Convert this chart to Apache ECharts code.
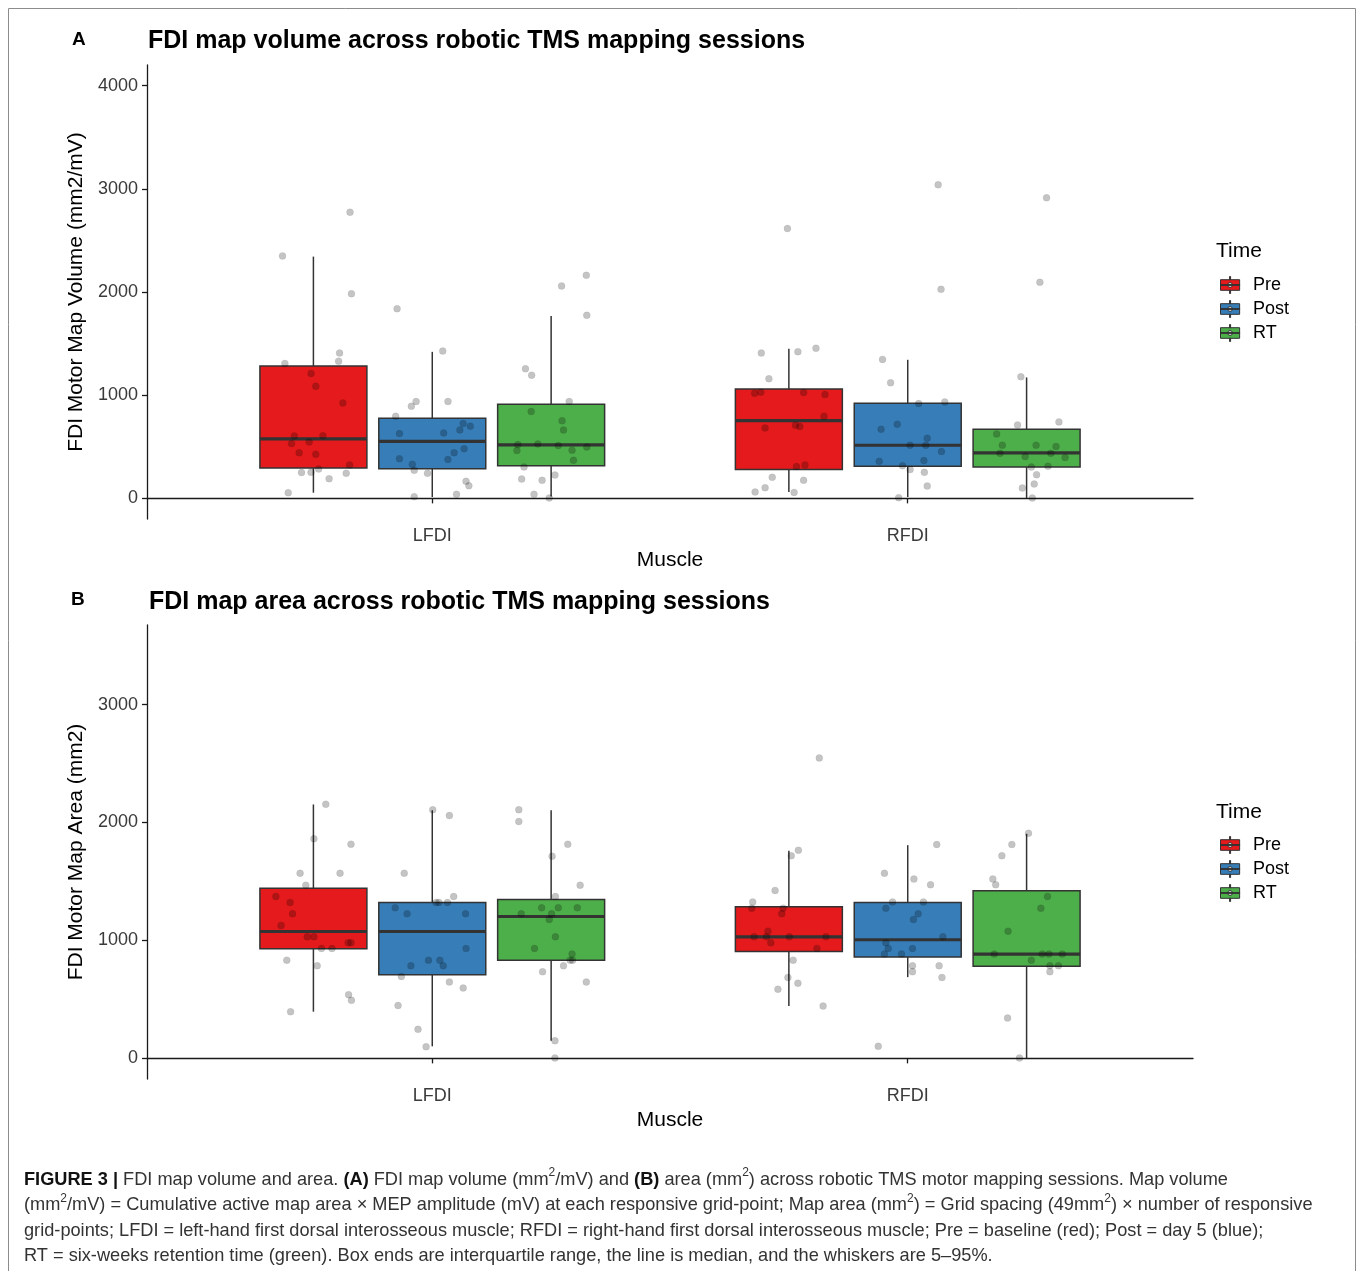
<!DOCTYPE html>
<html><head><meta charset="utf-8">
<script src="https://cdn.jsdelivr.net/npm/echarts@6/dist/echarts.min.js"></script>
<style>html,body{margin:0;padding:0;background:#fff}#c{width:1358px;height:1271px}</style>
</head><body><div id="c"></div>
<script>
// ---------------- DATA ----------------
const muscles = ['LFDI', 'RFDI'];
const times = ['Pre', 'Post', 'RT'];
const volTicks = [0, 1000, 2000, 3000, 4000];
const areaTicks = [0, 1000, 2000, 3000];

// box stats: [muscleIndex, lowerWhisker, Q1, median, Q3, upperWhisker]
const volPreBox  = [[0, 55, 294, 576, 1282, 2343], [1, 61, 279, 754, 1061, 1450]];
const volPostBox = [[0, 13, 288, 553, 777, 1420],  [1, 13, 311, 515, 922, 1343]];
const volRTBox   = [[0, 19, 317, 518, 913, 1767],  [1, 3, 304, 440, 670, 1172]];
const areaPreBox  = [[0, 396, 930, 1076, 1443, 2153], [1, 443, 907, 1031, 1286, 1760]];
const areaPostBox = [[0, 102, 709, 1076, 1322, 2104], [1, 689, 859, 1006, 1322, 1808]];
const areaRTBox   = [[0, 150, 831, 1203, 1348, 2104], [1, 3, 782, 884, 1421, 1904]];

// individual observations: [jitter (category units), value]
const volPreL = [[0.077,2774],[-0.065,2350],[0.080,1984],[0.055,1408],[0.053,1330],[-0.060,1308],[-0.005,1211],[0.005,1087],[0.062,925],[-0.040,605],[0.020,608],[-0.046,531],[-0.009,547],[-0.030,443],[0.005,427],[0.076,324],[0.011,285],[-0.025,250],[-0.005,252],[0.033,191],[0.069,243],[-0.053,55]];
const volPostL = [[-0.074,1838],[0.022,1427],[-0.034,939],[-0.044,893],[0.033,939],[-0.077,796],[0.065,725],[0.080,699],[0.058,663],[-0.069,628],[0.024,634],[0.067,482],[0.046,443],[-0.069,385],[0.033,376],[-0.042,330],[-0.038,272],[-0.010,243],[0.071,165],[0.077,123],[-0.038,16],[0.051,39]];
const volRTL = [[0.074,2162],[0.022,2058],[0.075,1774],[-0.054,1256],[-0.041,1194],[0.038,939],[-0.042,842],[0.023,751],[0.026,663],[-0.028,527],[-0.070,521],[0.015,512],[-0.072,463],[0.044,466],[0.075,498],[0.047,369],[-0.057,304],[0.008,226],[-0.062,187],[-0.019,175],[-0.036,39],[-0.004,3]];
const volPreR = [[-0.003,2615],[-0.058,1408],[0.019,1421],[0.057,1456],[-0.042,1159],[-0.072,1019],[-0.059,1029],[0.031,1026],[0.076,1007],[0.074,796],[-0.050,683],[0.014,709],[0.023,696],[0.034,324],[0.016,308],[-0.035,204],[0.031,175],[-0.050,104],[-0.071,61],[0.011,58]];
const volPostR = [[0.064,3039],[0.070,2026],[-0.053,1347],[-0.036,1120],[0.023,919],[0.078,935],[-0.056,670],[-0.022,718],[0.041,583],[0.005,515],[0.038,515],[0.071,453],[-0.060,359],[0.034,366],[-0.011,317],[0.005,279],[0.035,252],[0.041,119],[-0.019,7]];
const volRTR = [[0.042,2913],[0.028,2094],[-0.012,1178],[-0.019,712],[0.068,741],[-0.063,624],[-0.051,515],[0.020,515],[0.062,502],[-0.056,437],[0.051,437],[-0.003,405],[0.081,395],[0.010,304],[0.045,311],[0.021,230],[0.016,139],[-0.009,100],[0.012,3]];
const areaPreL = [[0.026,2155],[0.001,1862],[0.079,1816],[-0.028,1570],[0.056,1570],[-0.016,1469],[-0.079,1373],[-0.049,1322],[-0.044,1226],[-0.068,1127],[-0.013,1031],[0.001,1031],[0.073,980],[0.079,980],[0.017,932],[0.039,932],[-0.056,833],[0.008,785],[0.074,540],[0.080,492],[-0.048,396]];
const areaPostL = [[0.001,2108],[0.036,2059],[-0.059,1570],[0.045,1373],[0.008,1322],[0.014,1322],[0.032,1322],[-0.078,1277],[-0.053,1226],[0.070,1226],[0.071,932],[-0.008,833],[0.016,833],[-0.045,785],[0.023,785],[-0.065,695],[0.036,647],[0.065,596],[-0.072,449],[-0.030,246],[-0.013,99]];
const areaRTL = [[-0.068,2108],[-0.068,2009],[0.035,1816],[0.002,1715],[0.061,1469],[0.009,1373],[-0.020,1277],[0.015,1277],[0.055,1277],[-0.063,1226],[0.001,1226],[-0.004,1178],[0.009,1031],[-0.035,932],[0.044,884],[0.040,833],[0.045,833],[0.026,785],[-0.018,735],[0.074,647],[0.008,150],[0.008,3]];
const areaPreR = [[0.064,2548],[0.020,1765],[0.005,1718],[-0.029,1424],[-0.076,1325],[-0.078,1274],[-0.012,1274],[-0.015,1226],[-0.044,1079],[-0.073,1031],[-0.047,1031],[0.001,1031],[0.078,1031],[-0.038,980],[0.059,932],[0.009,833],[-0.002,686],[0.019,638],[-0.023,587],[0.072,443]];
const areaPostR = [[0.061,1814],[-0.049,1570],[0.013,1520],[0.048,1472],[-0.032,1325],[0.033,1325],[-0.046,1274],[0.022,1226],[0.012,1178],[0.074,1031],[-0.046,980],[-0.041,932],[0.010,932],[-0.049,884],[-0.013,884],[0.010,785],[0.066,785],[0.010,735],[0.072,686],[-0.062,102]];
const areaRTR = [[0.004,1909],[-0.031,1814],[-0.052,1718],[-0.071,1520],[-0.065,1472],[0.044,1373],[0.030,1274],[-0.039,1079],[-0.068,884],[0.033,884],[0.047,884],[0.075,884],[0.010,833],[0.049,785],[0.067,785],[0.049,735],[-0.040,342],[-0.015,3]];

// ---------------- STYLE / LAYOUT ----------------
const colors = ['#E41A1C', '#377EB8', '#4DAF4A'];
const dodge = [-0.25, 0, 0.25];
const boxW = 0.225;
const lineCol = '#333333';
const FONT = '"Liberation Sans", Arial, sans-serif';

const panels = [
  { boxes: [volPreBox, volPostBox, volRTBox], pts: [[volPreL, volPreR], [volPostL, volPostR], [volRTL, volRTR]],
    ticks: volTicks, min: -200, max: 4200, yName: 'FDI Motor Map Volume (mm2/mV)', top: 65 },
  { boxes: [areaPreBox, areaPostBox, areaRTBox], pts: [[areaPreL, areaPreR], [areaPostL, areaPostR], [areaRTL, areaRTR]],
    ticks: areaTicks, min: -175, max: 3675, yName: 'FDI Motor Map Area (mm2)', top: 625 }
];

function boxRender(t) {
  return function (params, api) {
    const xc = api.value(0) + 1 + dodge[t];
    const lo = api.coord([xc, api.value(1)]);
    const q1 = api.coord([xc, api.value(2)]);
    const md = api.coord([xc, api.value(3)]);
    const q3 = api.coord([xc, api.value(4)]);
    const hi = api.coord([xc, api.value(5)]);
    const hw = api.size([boxW / 2, 0])[0];
    const ls = { stroke: lineCol, lineWidth: 1.5 };
    return { type: 'group', children: [
      { type: 'line', shape: { x1: lo[0], y1: lo[1], x2: q1[0], y2: q1[1] }, style: ls },
      { type: 'line', shape: { x1: q3[0], y1: q3[1], x2: hi[0], y2: hi[1] }, style: ls },
      { type: 'rect', shape: { x: q3[0] - hw, y: q3[1], width: 2 * hw, height: q1[1] - q3[1] },
        style: { fill: colors[t], stroke: lineCol, lineWidth: 1.5 } },
      { type: 'line', shape: { x1: md[0] - hw, y1: md[1], x2: md[0] + hw, y2: md[1] },
        style: { stroke: lineCol, lineWidth: 3.2 } }
    ]};
  };
}

const grids = [], xAxes = [], yAxes = [], series = [], legends = [];
const axisLineStyle = { color: '#1a1a1a', width: 1.3 };
panels.forEach((p, pi) => {
  grids.push({ left: 147, top: p.top, width: 1046, height: 454 });
  xAxes.push({
    type: 'value', gridIndex: pi, min: 0.4, max: 2.6,
    name: 'Muscle', nameLocation: 'middle', nameGap: 31,
    nameTextStyle: { fontFamily: FONT, fontSize: 21, color: '#000' },
    axisLine: { show: true, lineStyle: axisLineStyle },
    axisTick: { show: true, length: 5, lineStyle: axisLineStyle, customValues: [1, 2] },
    axisLabel: { customValues: [1, 2], formatter: v => muscles[Math.round(v) - 1], margin: 8,
      fontFamily: FONT, fontSize: 18, color: '#3a3a3a' },
    splitLine: { show: false }
  });
  yAxes.push({
    type: 'value', gridIndex: pi, min: p.min, max: p.max,
    name: p.yName, nameLocation: 'middle', nameRotate: 90, nameGap: 48,
    nameTextStyle: { fontFamily: FONT, fontSize: 21, color: '#000' },
    axisLine: { show: true, lineStyle: axisLineStyle },
    axisTick: { show: true, length: 5, lineStyle: axisLineStyle, customValues: p.ticks },
    axisLabel: { customValues: p.ticks, formatter: v => String(v), margin: 9, fontFamily: FONT, fontSize: 18, color: '#3a3a3a' },
    splitLine: { show: false }
  });
  times.forEach((tn, t) => {
    series.push({
      type: 'custom', name: tn, xAxisIndex: pi, yAxisIndex: pi,
      renderItem: boxRender(t), encode: { x: 0, y: [1, 2, 3, 4, 5] },
      itemStyle: { color: colors[t], borderColor: lineCol, borderWidth: 1 },
      data: p.boxes[t], z: 2, silent: true
    });
  });
  times.forEach((tn, t) => {
    const data = [];
    p.pts[t].forEach((arr, m) => arr.forEach(d => data.push([m + 1 + dodge[t] + d[0], d[1]])));
    series.push({
      type: 'scatter', name: tn + ' obs', xAxisIndex: pi, yAxisIndex: pi,
      symbol: 'circle', symbolSize: 7,
      itemStyle: { color: 'rgba(0,0,0,0.29)', borderColor: 'rgba(0,0,0,0.12)', borderWidth: 0.6 },
      data: data, z: 5, silent: true
    });
  });
  legends.push({
    data: times, orient: 'vertical', left: 1215, top: p.top + 206, itemWidth: 22, itemHeight: 17, itemGap: 6,
    icon: 'path://M9.5 0h1v3h-1z M1 3h18v10h-18z M9.5 13h1v3h-1z M1 7.6h18v0.8h-18z M7.8 8a2.2 2.2 0 1 0 4.4 0a2.2 2.2 0 1 0 -4.4 0z',
    itemStyle: { borderColor: lineCol, borderWidth: 1 },
    textStyle: { fontFamily: FONT, fontSize: 18, color: '#000', lineHeight: 18, padding: [0, 0, 0, 7] },
    selectedMode: false
  });
});

const captionLines = [
  '{b|FIGURE 3 |} FDI map volume and area. {b|(A)} FDI map volume (mm{s|2}/mV) and {b|(B)} area (mm{s|2}) across robotic TMS motor mapping sessions. Map volume',
  '(mm{s|2}/mV) = Cumulative active map area × MEP amplitude (mV) at each responsive grid-point; Map area (mm{s|2}) = Grid spacing (49mm{s|2}) × number of responsive',
  'grid-points; LFDI = left-hand first dorsal interosseous muscle; RFDI = right-hand first dorsal interosseous muscle; Pre = baseline (red); Post = day 5 (blue);',
  'RT = six-weeks retention time (green). Box ends are interquartile range, the line is median, and the whiskers are 5–95%.'
];

const graphics = [
  { type: 'rect', shape: { x: 8.5, y: 8.5, width: 1347, height: 1300 }, style: { fill: 'none', stroke: '#8c8c8c', lineWidth: 1 }, silent: true },
  { type: 'text', x: 72, y: 40, style: { text: 'A', font: 'bold 19px ' + FONT, fill: '#000', verticalAlign: 'middle' } },
  { type: 'text', x: 148, y: 41, style: { text: 'FDI map volume across robotic TMS mapping sessions', font: 'bold 25px ' + FONT, fill: '#000', verticalAlign: 'middle' } },
  { type: 'text', x: 71, y: 600, style: { text: 'B', font: 'bold 19px ' + FONT, fill: '#000', verticalAlign: 'middle' } },
  { type: 'text', x: 149, y: 602, style: { text: 'FDI map area across robotic TMS mapping sessions', font: 'bold 25px ' + FONT, fill: '#000', verticalAlign: 'middle' } },
  { type: 'text', x: 1216, y: 251, style: { text: 'Time', font: '21px ' + FONT, fill: '#000', verticalAlign: 'middle' } },
  { type: 'text', x: 1216, y: 812, style: { text: 'Time', font: '21px ' + FONT, fill: '#000', verticalAlign: 'middle' } },
  { type: 'text', x: 24, y: 1167, style: {
      text: captionLines.join('\n'), fontFamily: FONT, fontSize: 18.2, lineHeight: 25.4, fill: '#333',
      rich: {
        b: { fontFamily: FONT, fontSize: 18.2, fontWeight: 'bold', fill: '#111', lineHeight: 25.4 },
        s: { fontFamily: FONT, fontSize: 12, fill: '#333', verticalAlign: 'top', lineHeight: 19 }
      }
  } }
];

const chart = echarts.init(document.getElementById('c'), null, { renderer: 'canvas' });
chart.setOption({
  backgroundColor: '#fff',
  animation: false,
  grid: grids, xAxis: xAxes, yAxis: yAxes, legend: legends,
  series: series, graphic: graphics
});
</script></body></html>
